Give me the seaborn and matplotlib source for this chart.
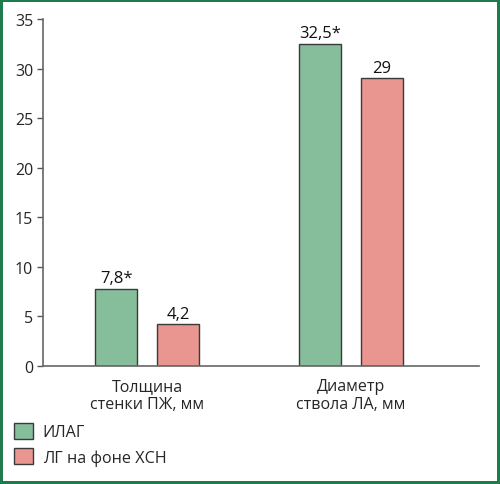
import pandas as pd
import numpy as np
import matplotlib.pyplot as plt
import seaborn as sns

categories = ['Толщина\nстенки ПЖ, мм', 'Диаметр\nствола ЛА, мм']
groups = ['ИЛАГ', 'ЛГ на фоне ХСН']
ilag = [7.8, 32.5]
lg_hsn = [4.2, 29]
labels_ilag = ['7,8*', '32,5*']
labels_lg = ['4,2', '29']
yticks = [0, 5, 10, 15, 20, 25, 30, 35]

df = pd.DataFrame({
    'cat': categories * 2,
    'group': [groups[0]] * 2 + [groups[1]] * 2,
    'value': ilag + lg_hsn,
})

sns.set_style('white')
plt.rcParams['font.family'] = ['Open Sans', 'DejaVu Sans']

fig = plt.figure(figsize=(5, 4.85), dpi=100)
fig.patch.set_edgecolor('#1f7a4c')
fig.patch.set_linewidth(3)
ax = fig.add_axes([0.086, 0.2433, 0.872, 0.7155])

palette = {groups[0]: '#86bd9b', groups[1]: '#e8968f'}
sns.barplot(df, x='cat', y='value', hue='group', palette=palette,
            saturation=1, width=0.608, gap=0.32, edgecolor='#3a3a3a',
            linewidth=1, ax=ax, legend=True)

for cont, labs in zip(ax.containers, [labels_ilag, labels_lg]):
    ax.bar_label(cont, labels=labs, padding=2, fontsize=12, color='#111111')

ax.set_ylim(0, 35)
ax.set_xlim(-0.51, 1.627)
ax.set_yticks(yticks)
ax.set_xlabel('')
ax.set_ylabel('')
ax.tick_params(axis='y', left=True, length=4, width=1, color='#555555',
               labelsize=11.5, pad=3)
ax.tick_params(axis='x', bottom=False, labelsize=11.5, pad=5)
for s in ['top', 'right']:
    ax.spines[s].set_visible(False)
for s in ['left', 'bottom']:
    ax.spines[s].set_color('#666666')
    ax.spines[s].set_linewidth(1.2)

handles, lbls = ax.get_legend_handles_labels()
ax.legend_.remove()
fig.legend(handles, lbls, loc='upper left', bbox_to_anchor=(0.016, 0.14),
           frameon=False, fontsize=11.6, handlelength=1.15, handleheight=1.15,
           handletextpad=0.6, labelspacing=0.5, borderaxespad=0)

fig.savefig('out.png', dpi=100)
